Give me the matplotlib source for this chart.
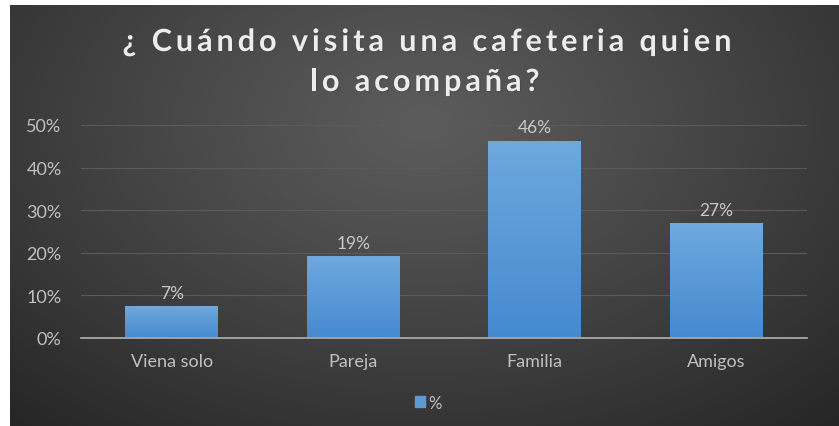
import matplotlib
matplotlib.use("Agg")
import matplotlib.pyplot as plt
import matplotlib.patheffects as pe
import numpy as np
from matplotlib.ticker import PercentFormatter
from matplotlib.font_manager import FontProperties

categorias = ["Viena solo", "Pareja", "Familia", "Amigos"]
valores = [0.074, 0.192, 0.463, 0.269]
etiquetas = ["7%", "19%", "46%", "27%"]
titulo = ["¿ Cuándo visita una cafeteria quien", "lo acompaña?"]
serie = "%"

plt.rcParams['font.family'] = ['Lato', 'DejaVu Sans']

W, H = 839, 427
fig = plt.figure(figsize=(W / 100, H / 100), dpi=100)
fig.patch.set_facecolor("white")

# fondo oscuro con degradado radial
bg = fig.add_axes([10 / W, 0, (W - 10) / W, (H - 6) / H])
yy, xx = np.mgrid[0:1:300j, 0:1:600j]
r = np.sqrt(((xx - 0.5) / 0.75) ** 2 + ((yy - 0.72) / 0.95) ** 2)
r = np.clip(r, 0, 1)
c0 = np.array([0.36, 0.36, 0.36])
c1 = np.array([0.15, 0.15, 0.15])
img = c0 + (c1 - c0) * r[..., None] ** 1.1
bg.imshow(img, extent=[0, 1, 0, 1], origin="lower", aspect="auto")
bg.axis("off")

ax = fig.add_axes([81 / W, 1 - 339 / H, (807 - 81) / W, (339 - 126) / H])
ax.set_facecolor("none")

x = np.arange(len(categorias))
barras = ax.bar(x, valores, width=0.51, color="#5B9BD5", zorder=3)

# degradado vertical dentro de cada barra
grad = np.linspace(0, 1, 100)[:, None]
cmap = matplotlib.colors.LinearSegmentedColormap.from_list("azul", ["#4589CF", "#6EA9DE"])
for b in barras:
    im = ax.imshow(grad, extent=[b.get_x(), b.get_x() + b.get_width(), 0, b.get_height()],
                   origin="lower", aspect="auto", cmap=cmap, zorder=3)
    im.set_clip_path(b)
    b.set_alpha(0)

for xi, v, t in zip(x, valores, etiquetas):
    ax.text(xi, v + 0.013, t, ha="center", va="bottom", color="#C8C8C8", fontsize=12.5)

ax.set_xlim(-0.5, len(categorias) - 0.5)
ax.set_ylim(0, 0.5)
ax.set_yticks(np.arange(0, 0.51, 0.1))
ax.yaxis.set_major_formatter(PercentFormatter(1.0, decimals=0))
ax.set_xticks(x)
ax.set_xticklabels(categorias)
ax.tick_params(axis="both", length=0, colors="#C0C0C0", labelsize=13)
ax.tick_params(axis="x", pad=11)
ax.tick_params(axis="y", pad=14)
ax.grid(axis="y", color="#5A5A5A", linewidth=0.8, zorder=0)
for s in ["top", "right", "left"]:
    ax.spines[s].set_visible(False)
ax.spines["bottom"].set_color("#A8A8A8")
ax.spines["bottom"].set_linewidth(1.3)
ax.spines["bottom"].set_zorder(4)


# título con espaciado entre letras, letra a letra
def texto_espaciado(linea, cx, y, prop, extra):
    renderer = fig.canvas.get_renderer()

    def ancho(s):
        w, _, _ = renderer.get_text_width_height_descent(s, prop, ismath=False)
        return w

    anchos = []
    for ch in linea:
        if ch == " ":
            anchos.append(ancho("i i") - ancho("ii"))
        else:
            anchos.append(ancho(ch))
    total = sum(anchos) + extra * (len(linea) - 1)
    xpos = cx - total / 2
    for ch, w in zip(linea, anchos):
        if ch != " ":
            fig.text(xpos / W, y, ch, fontproperties=prop, color="#EDEDED",
                     ha="left", va="baseline",
                     path_effects=[pe.withSimplePatchShadow(offset=(1, -1), alpha=0.5)])
        xpos += w + extra


prop_titulo = FontProperties(family=["Lato", "DejaVu Sans"], weight="bold", size=22)
texto_espaciado(titulo[0], 427, 1 - 52 / H, prop_titulo, 4.0)
texto_espaciado(titulo[1], 425, 1 - 92 / H, prop_titulo, 4.0)

h = plt.Rectangle((0, 0), 1, 1, color="#5B9BD5")
fig.legend([h], [serie], loc="center", bbox_to_anchor=(0.51, 0.055), frameon=False,
           labelcolor="#C0C0C0", fontsize=12, handlelength=0.6, handleheight=0.6,
           handletextpad=0.2)

fig.savefig("out.png", dpi=100, facecolor=fig.get_facecolor())
